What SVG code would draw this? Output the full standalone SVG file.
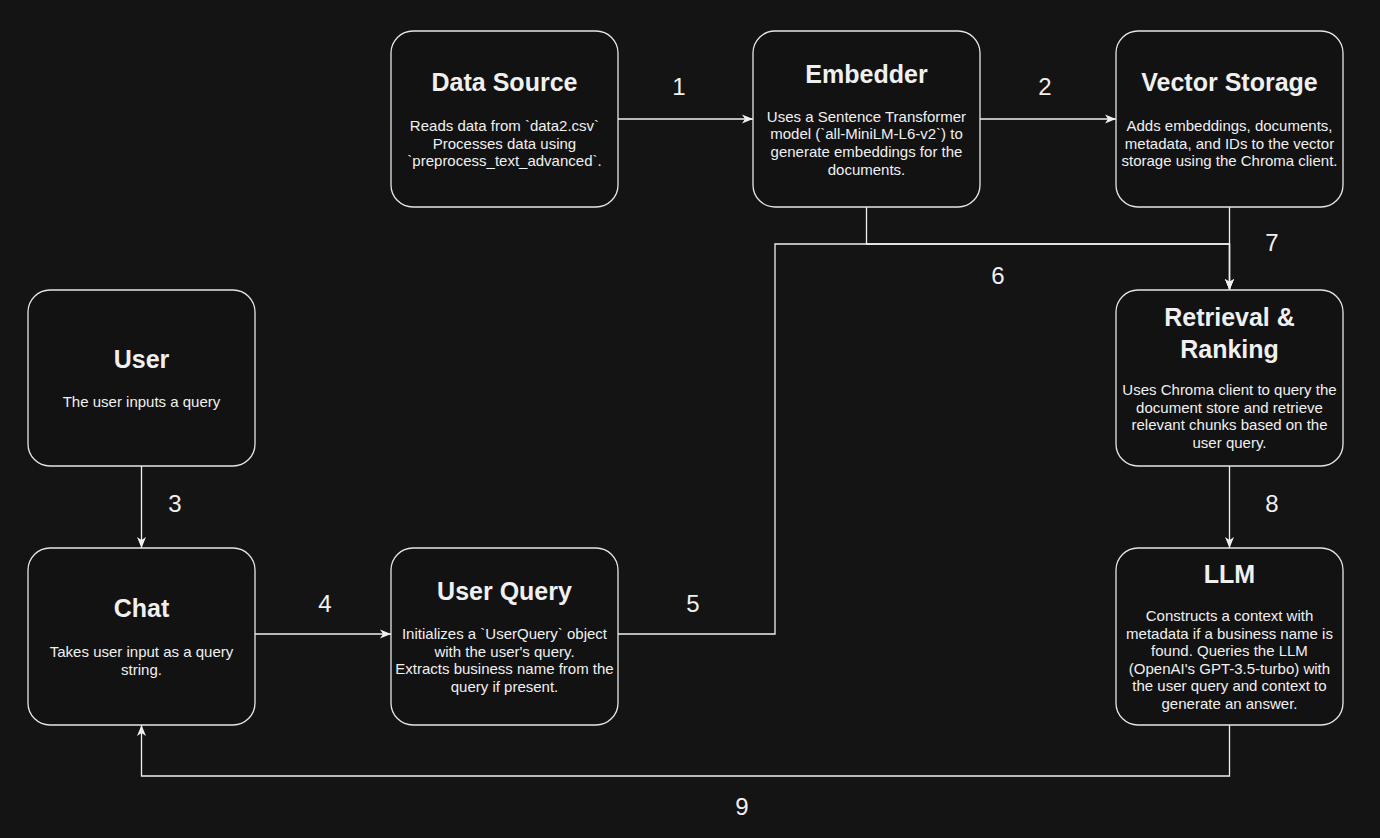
<svg xmlns="http://www.w3.org/2000/svg" width="1380" height="838" viewBox="0 0 1380 838">
<style>
.box{fill:#121212;stroke:#e6e6e6;stroke-width:1.3}
.t{font-family:"Liberation Sans",Arial,sans-serif;font-weight:bold;font-size:25px;fill:#f0f0f0;text-anchor:middle}
.b{font-family:"Liberation Sans",Arial,sans-serif;font-size:15px;fill:#f0f0f0;text-anchor:middle}
.n{font-family:"Liberation Sans",Arial,sans-serif;font-size:24px;fill:#f0f0f0;text-anchor:middle}
.e{fill:none;stroke:#f0f0f0;stroke-width:1.3}
</style>
<defs>
<marker id="arr" markerUnits="userSpaceOnUse" markerWidth="12" markerHeight="10" refX="11" refY="5" orient="auto">
<path d="M0,0.5 L11,5 L0,9.5 L3,5 Z" fill="#f0f0f0"/>
</marker>
</defs>
<rect width="1380" height="838" fill="#141414"/>
<g id="connectors">
<path class="e" d="M618,119 H753" marker-end="url(#arr)"/>
<path class="e" d="M980,119 H1116" marker-end="url(#arr)"/>
<path class="e" d="M141.5,466 V548" marker-end="url(#arr)"/>
<path class="e" d="M255,634 H391" marker-end="url(#arr)"/>
<path class="e" d="M618,634 H775 V244 H1229.5 V290" marker-end="url(#arr)"/>
<path class="e" d="M866.5,207 V244 H1229.5 V290" marker-end="url(#arr)"/>
<path class="e" d="M1229.5,207 V290" marker-end="url(#arr)"/>
<path class="e" d="M1229.5,466 V548" marker-end="url(#arr)"/>
<path class="e" d="M1229.5,725 V776 H141.5 V725" marker-end="url(#arr)"/>
<text class="n" x="679" y="95">1</text>
<text class="n" x="1045" y="95">2</text>
<text class="n" x="175" y="512">3</text>
<text class="n" x="325" y="612">4</text>
<text class="n" x="693" y="612">5</text>
<text class="n" x="998" y="284">6</text>
<text class="n" x="1272" y="251">7</text>
<text class="n" x="1272" y="512">8</text>
<text class="n" x="742" y="815">9</text>
</g>
<g id="data-source">
<rect class="box" x="391" y="31" width="227" height="176" rx="22"/>
<text class="t" x="504.5" y="91">Data Source</text>
<text class="b" x="504.5" y="131">Reads data from `data2.csv`</text>
<text class="b" x="504.5" y="148.6">Processes data using</text>
<text class="b" x="504.5" y="166.2">`preprocess_text_advanced`.</text>
</g>
<g id="embedder">
<rect class="box" x="753" y="31" width="227" height="176" rx="22"/>
<text class="t" x="866.5" y="83">Embedder</text>
<text class="b" x="866.5" y="121.7">Uses a Sentence Transformer</text>
<text class="b" x="866.5" y="139.3">model (`all-MiniLM-L6-v2`) to</text>
<text class="b" x="866.5" y="156.9">generate embeddings for the</text>
<text class="b" x="866.5" y="174.5">documents.</text>
</g>
<g id="vector-storage">
<rect class="box" x="1116" y="31" width="227" height="176" rx="22"/>
<text class="t" x="1229.5" y="91">Vector Storage</text>
<text class="b" x="1229.5" y="131">Adds embeddings, documents,</text>
<text class="b" x="1229.5" y="148.6">metadata, and IDs to the vector</text>
<text class="b" x="1229.5" y="166.2">storage using the Chroma client.</text>
</g>
<g id="retrieval-ranking">
<rect class="box" x="1116" y="290" width="227" height="176" rx="22"/>
<text class="t" x="1229.5" y="326">Retrieval &amp;</text>
<text class="t" x="1229.5" y="357.5">Ranking</text>
<text class="b" x="1229.5" y="395">Uses Chroma client to query the</text>
<text class="b" x="1229.5" y="412.6">document store and retrieve</text>
<text class="b" x="1229.5" y="430.2">relevant chunks based on the</text>
<text class="b" x="1229.5" y="447.8">user query.</text>
</g>
<g id="llm">
<rect class="box" x="1116" y="548" width="227" height="177" rx="22"/>
<text class="t" x="1229.5" y="583">LLM</text>
<text class="b" x="1229.5" y="621">Constructs a context with</text>
<text class="b" x="1229.5" y="638.6">metadata if a business name is</text>
<text class="b" x="1229.5" y="656.2">found. Queries the LLM</text>
<text class="b" x="1229.5" y="673.8">(OpenAI's GPT-3.5-turbo) with</text>
<text class="b" x="1229.5" y="691.4">the user query and context to</text>
<text class="b" x="1229.5" y="709">generate an answer.</text>
</g>
<g id="user">
<rect class="box" x="28" y="290" width="227" height="176" rx="22"/>
<text class="t" x="141.5" y="368">User</text>
<text class="b" x="141.5" y="407">The user inputs a query</text>
</g>
<g id="chat">
<rect class="box" x="28" y="548" width="227" height="177" rx="22"/>
<text class="t" x="141.5" y="617">Chat</text>
<text class="b" x="141.5" y="657">Takes user input as a query</text>
<text class="b" x="141.5" y="674.6">string.</text>
</g>
<g id="user-query">
<rect class="box" x="391" y="548" width="227" height="177" rx="22"/>
<text class="t" x="504.5" y="600">User Query</text>
<text class="b" x="504.5" y="639">Initializes a `UserQuery` object</text>
<text class="b" x="504.5" y="656.6">with the user's query.</text>
<text class="b" x="504.5" y="674.2">Extracts business name from the</text>
<text class="b" x="504.5" y="691.8">query if present.</text>
</g>
</svg>
